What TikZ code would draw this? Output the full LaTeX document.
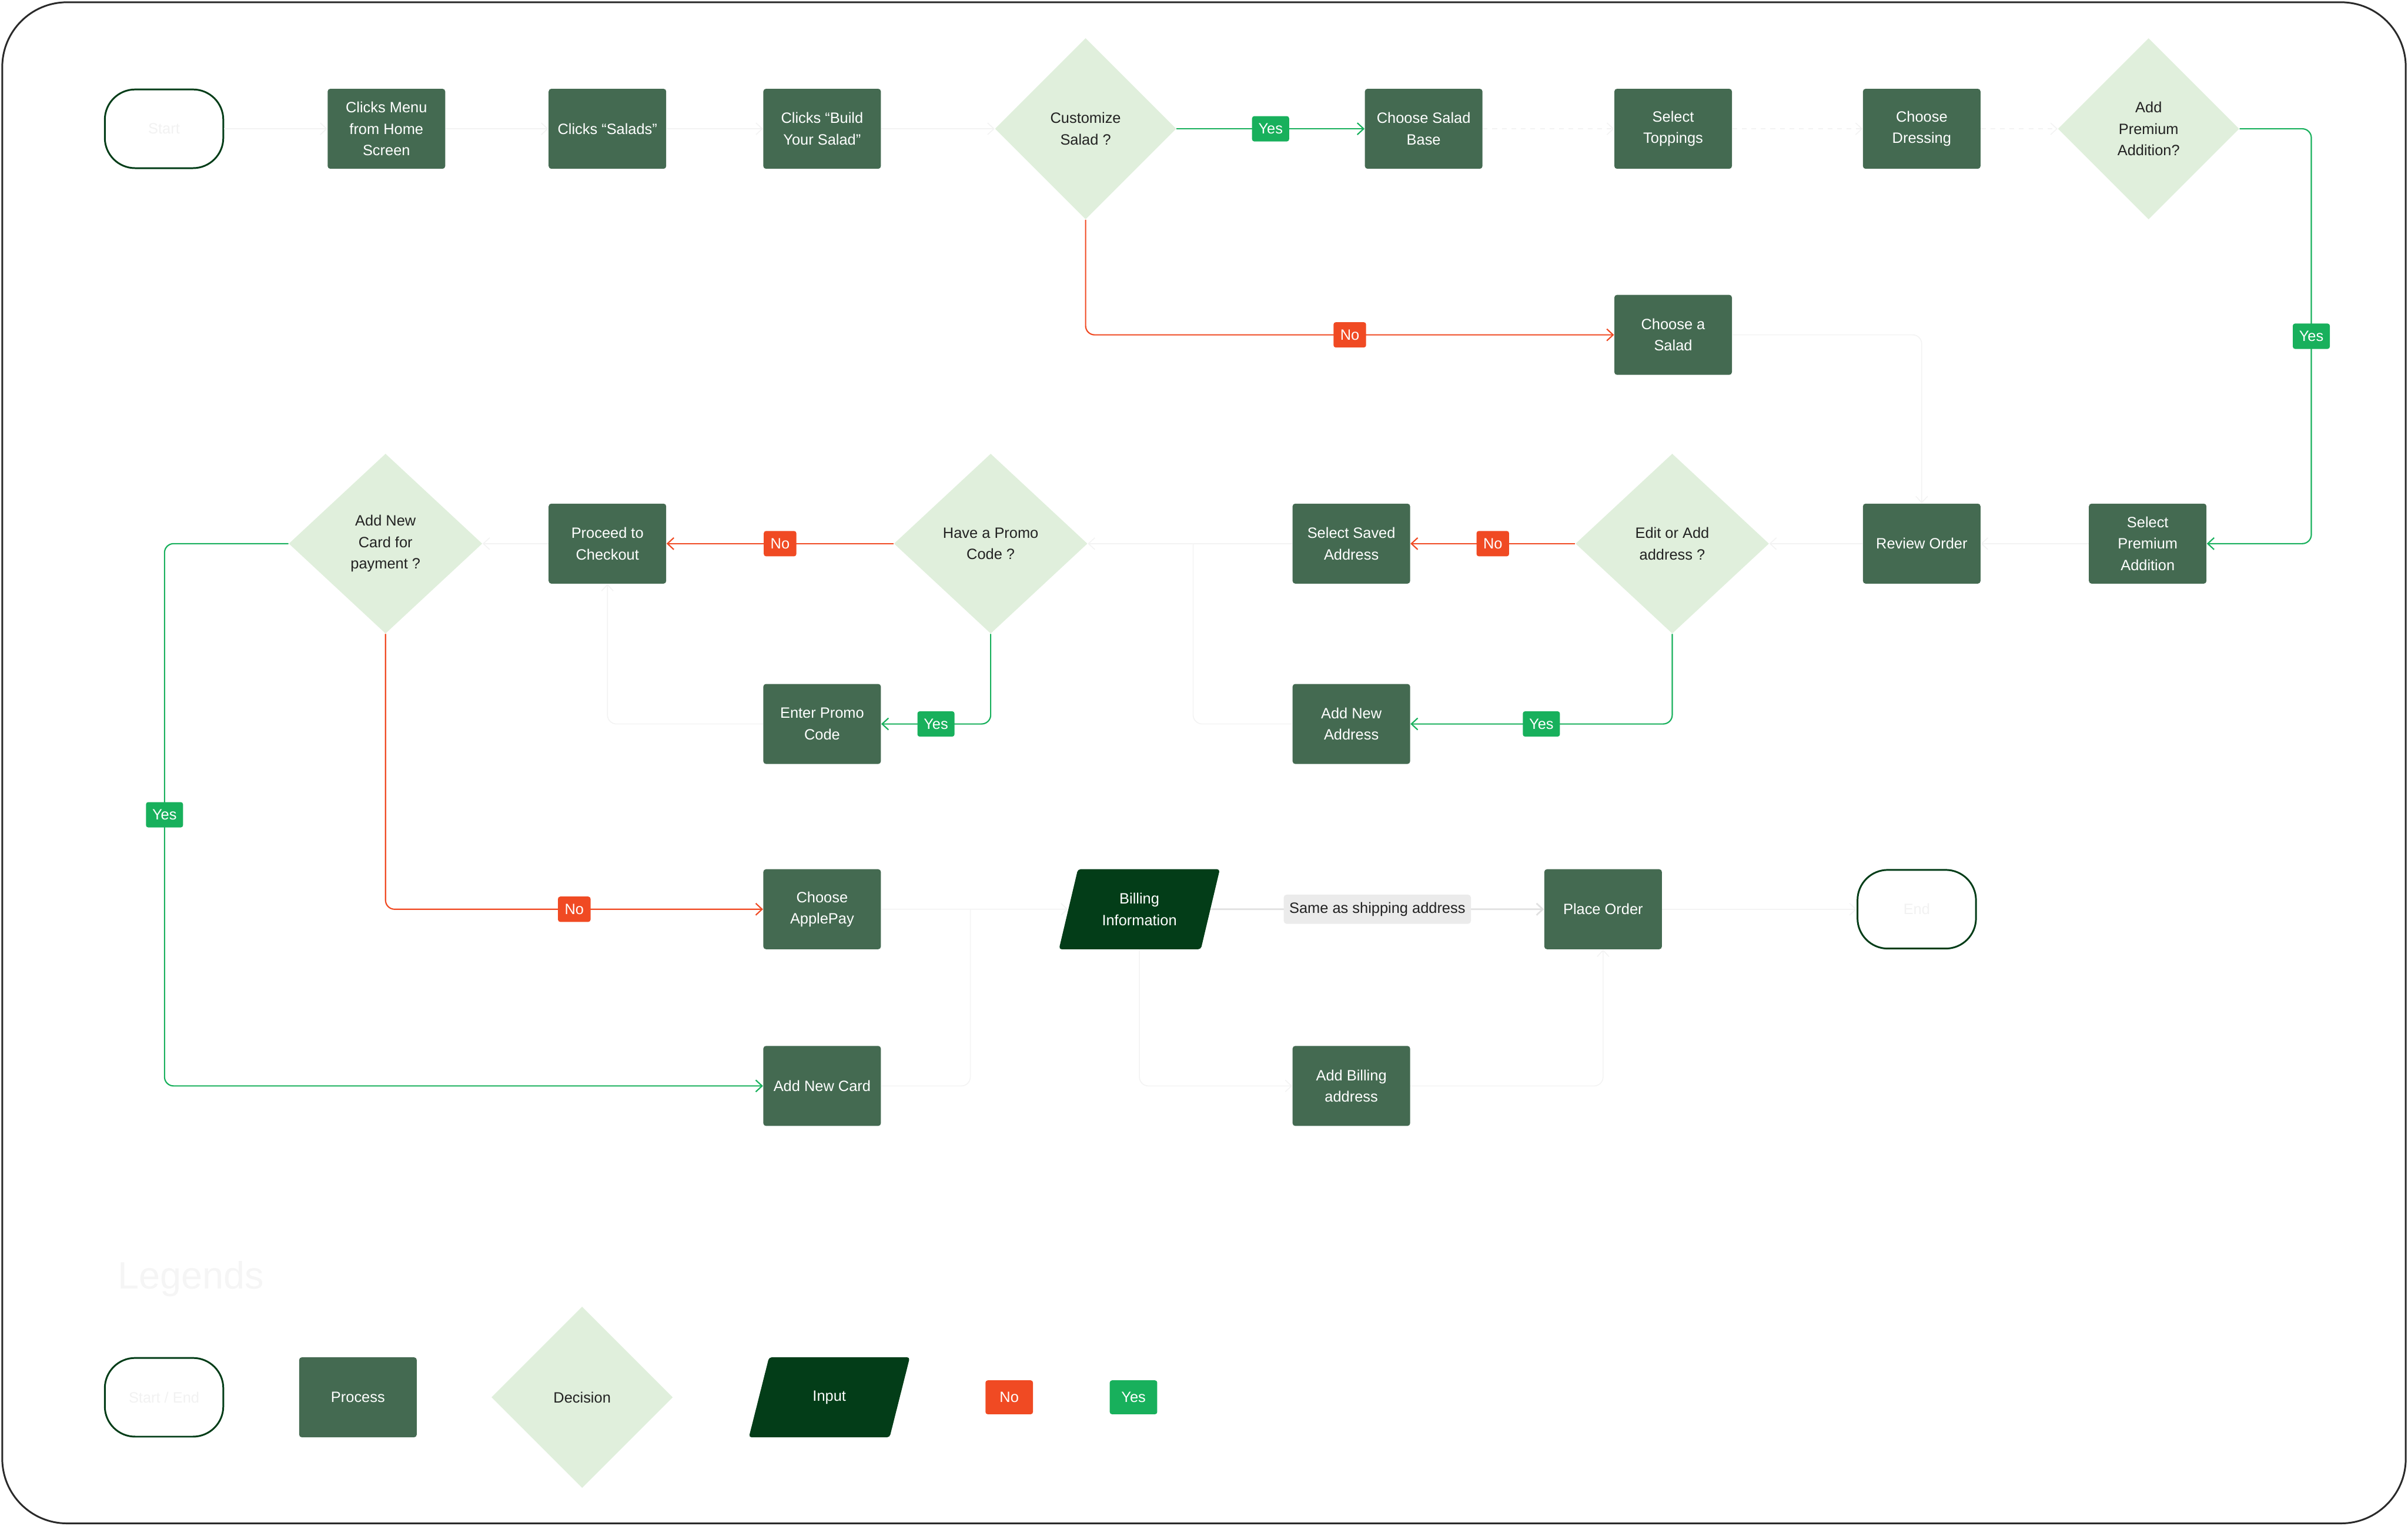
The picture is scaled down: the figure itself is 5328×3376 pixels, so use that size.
\documentclass[tikz,border=0pt]{standalone}
\usepackage{fontspec}
\setmainfont{Liberation Sans}
\setsansfont{Liberation Sans}
\usetikzlibrary{arrows.meta,positioning,calc,shapes.geometric}

\definecolor{procgreen}{RGB}{68,106,81}
\definecolor{decgreen}{RGB}{224,239,220}
\definecolor{inputgreen}{RGB}{3,61,24}
\definecolor{yesgreen}{RGB}{24,176,92}
\definecolor{nored}{RGB}{240,74,35}
\definecolor{framegray}{RGB}{42,42,42}
\definecolor{faintgray}{RGB}{243,243,243}
\definecolor{shipgray}{RGB}{235,235,235}
\definecolor{shipline}{RGB}{225,225,225}
\definecolor{dectext}{RGB}{34,34,34}

\begin{document}
\begin{tikzpicture}[
  x=0.01cm, y=-0.01cm,
  font=\sffamily\fontsize{9.4}{13.5}\selectfont,
  >={Straight Barb[length=1.4mm, width=2.6mm]},
  process/.style={fill=procgreen, text=white, rounded corners=0.6mm, align=center, minimum width=2.6cm, minimum height=1.77cm},
  decision/.style={diamond, fill=decgreen, text=dectext, align=center, minimum width=4.01cm, minimum height=4.01cm, inner sep=0pt},
  widedec/.style={minimum width=4.28cm, minimum height=3.98cm},
  terminal/.style={draw=inputgreen, line width=1.1pt, fill=white, rounded corners=6.7mm, text=black!5, minimum width=2.62cm, minimum height=1.74cm},
  inputbox/.style={trapezium, trapezium left angle=73, trapezium right angle=107, trapezium stretches=true, fill=inputgreen, text=white, align=center, rounded corners=0.6mm, minimum width=3.57cm, minimum height=1.77cm},
  yeslabel/.style={fill=yesgreen, text=white, rounded corners=0.5mm, minimum width=0.82cm, minimum height=0.56cm, inner sep=1pt},
  nolabel/.style={fill=nored, text=white, rounded corners=0.5mm, minimum width=0.72cm, minimum height=0.56cm, inner sep=1pt},
  yesline/.style={draw=yesgreen, line width=0.8pt, ->, rounded corners=2mm},
  noline/.style={draw=nored, line width=0.8pt, ->, rounded corners=2mm},
  flow/.style={draw=faintgray, line width=0.6pt, ->, rounded corners=2mm},
  shipflow/.style={draw=shipline, line width=1pt, ->},
  shiplabel/.style={fill=shipgray, draw=shipgray, text=dectext, rounded corners=0.5mm, minimum height=0.61cm, inner sep=3pt}
]
\useasboundingbox (0,0) rectangle (5328,3376);
\draw[framegray, line width=1.1pt, rounded corners=1.43cm] (5,5) rectangle (5323,3371);

\node[terminal] (start) at (363,285) {Start};
\node[process] (menu) at (855,285) {Clicks Menu\\from Home\\Screen};
\node[process] (salads) at (1344,285) {Clicks “Salads”};
\node[process] (build) at (1819,285) {Clicks “Build\\Your Salad”};
\node[decision] (custom) at (2402,285) {Customize\\Salad ?};
\node[process] (base) at (3150,285) {Choose Salad\\Base};
\node[process] (toppings) at (3702,285) {Select\\Toppings};
\node[process] (dressing) at (4252,285) {Choose\\Dressing};
\node[decision] (premium) at (4754,285) {Add\\Premium\\Addition?};
\node[process] (choose) at (3702,741) {Choose a\\Salad};

\node[process] (selprem) at (4752,1203) {Select\\Premium\\Addition};
\node[process] (review) at (4252,1203) {Review Order};
\node[decision, widedec] (editaddr) at (3700,1203) {Edit or Add\\address ?};
\node[process] (saved) at (2990,1203) {Select Saved\\Address};
\node[process] (newaddr) at (2990,1602) {Add New\\Address};
\node[decision, widedec] (promo) at (2192,1203) {Have a Promo\\Code ?};
\node[process] (checkout) at (1344,1203) {Proceed to\\Checkout};
\node[process] (enterpromo) at (1819,1602) {Enter Promo\\Code};
\node[decision, widedec] (card) at (853,1203) {Add New\\Card for\\payment ?};

\node[process] (applepay) at (1819,2012) {Choose\\ApplePay};
\node[process] (newcard) at (1819,2403) {Add New Card};
\node[inputbox] (billing) at (2521,2012) {Billing\\Information};
\node[process] (place) at (3547,2012) {Place Order};
\node[terminal] (finish) at (4241,2012) {End};
\node[process] (addbill) at (2990,2403) {Add Billing\\address};

\coordinate (premturn) at (5114,285);
\coordinate (cardturn) at (364,1203);
\coordinate (addrjoin) at (2640,1203);
\coordinate (payjoin) at (2147,2012);

\draw[flow] (start) -- (menu);
\draw[flow] (menu) -- (salads);
\draw[flow] (salads) -- (build);
\draw[flow] (build) -- (custom.west);
\draw[yesline] (custom.east) -- node[yeslabel] {Yes} (base);
\draw[noline] (custom.south) |- node[nolabel, pos=0.75] {No} (choose.west);
\draw[flow, dashed] (base) -- (toppings);
\draw[flow, dashed] (toppings) -- (dressing);
\draw[flow, dashed] (dressing) -- (premium.west);
\draw[yesline] (premium.east) -- (premturn) |- node[yeslabel, pos=0.25] {Yes} (selprem.east);
\draw[flow] (choose.east) -| (review.north);
\draw[flow] (selprem) -- (review);
\draw[flow] (review) -- (editaddr.east);
\draw[noline] (editaddr.west) -- node[nolabel] {No} (saved.east);
\draw[yesline] (editaddr.south) |- node[yeslabel, pos=0.75] {Yes} (newaddr.east);
\draw[flow] (saved.west) -- (promo.east);
\draw[flow, -] (newaddr.west) -| (addrjoin);
\draw[noline] (promo.west) -- node[nolabel] {No} (checkout.east);
\draw[yesline] (promo.south) |- node[yeslabel, pos=0.75] {Yes} (enterpromo.east);
\draw[flow] (enterpromo.west) -| (checkout.south);
\draw[flow] (checkout.west) -- (card.east);
\draw[yesline] (card.west) -- (cardturn) |- node[yeslabel, pos=0.25] {Yes} (newcard.west);
\draw[noline] (card.south) |- node[nolabel, pos=0.75] {No} (applepay.west);
\draw[flow] (applepay.east) -- (billing.west);
\draw[flow, -] (newcard.east) -| (payjoin);
\draw[shipflow] (billing.east) -- node[shiplabel] {Same as shipping address} (place.west);
\draw[flow] (billing.south) |- (addbill.west);
\draw[flow] (addbill.east) -| (place.south);
\draw[flow] (place) -- (finish);

\node[anchor=west, text=black!4, font=\sffamily\fontsize{24}{28}\selectfont] (legtitle) at (248,2830) {Legends};
\node[terminal] (lgterm) at (363,3092) {Start / End};
\node[process] (lgproc) at (792,3092) {Process};
\node[decision] (lgdec) at (1288,3092) {Decision};
\node[inputbox] (lginput) at (1835,3092) {Input};
\node[nolabel, minimum width=1.05cm, minimum height=0.75cm] (lgno) at (2233,3092) {No};
\node[yeslabel, minimum width=1.05cm, minimum height=0.75cm] (lgyes) at (2508,3092) {Yes};
\end{tikzpicture}
\end{document}
